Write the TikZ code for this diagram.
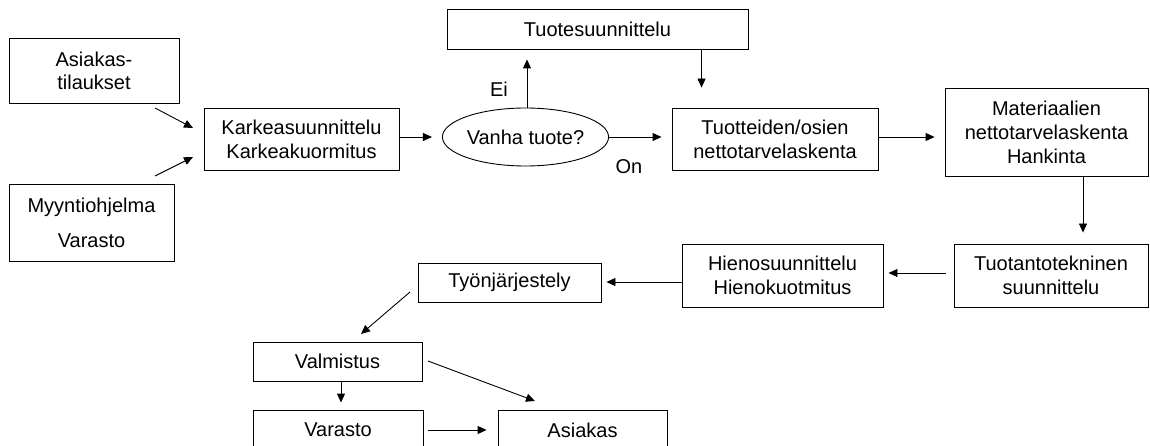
\documentclass[tikz,border=0pt]{standalone}
\usepackage{fontspec}
\setmainfont{Liberation Sans}
\usetikzlibrary{arrows.meta,shapes.geometric,calc}
\begin{document}
\begin{tikzpicture}[x=1pt,y=-1pt,
  box/.style={draw, line width=0.9pt, inner sep=0pt, align=center, font=\fontsize{20}{24}\selectfont},
  arr/.style={line width=0.9pt, -{Triangle[length=9pt,width=8pt]}},
  lbl/.style={font=\fontsize{20}{24}\selectfont, inner sep=0pt}]
\useasboundingbox (0,0) rectangle (1150,446);
\fill[white] (0,0) rectangle (1150,446);
% boxes
\node[box, minimum width=170pt, minimum height=65pt, font=\fontsize{20}{23}\selectfont] (asi) at (94,70.5) {Asiakas-\\tilaukset};
\node[box, minimum width=195pt, minimum height=62pt] (karkea) at (301.5,139) {Karkeasuunnittelu\\Karkeakuormitus};
\node[box, minimum width=165pt, minimum height=77pt] (myy) at (91.5,222.5) {Myyntiohjelma\\[11pt]Varasto};
\node[box, ellipse, minimum width=157pt, minimum height=58pt] (ell) at (525.5,137) {Vanha tuote?};
\node[box, minimum width=301pt, minimum height=40pt] (tsuun) at (597.5,29) {Tuotesuunnittelu};
\node[box, minimum width=206pt, minimum height=62pt] (tuotteiden) at (775,139) {Tuotteiden/osien\\nettotarvelaskenta};
\node[box, minimum width=203pt, minimum height=88pt] (mat) at (1046.5,132) {Materiaalien\\nettotarvelaskenta\\Hankinta};
\node[box, minimum width=194pt, minimum height=63pt] (tuotanto) at (1051,275.5) {Tuotantotekninen\\suunnittelu};
\node[box, minimum width=201pt, minimum height=63pt] (hieno) at (782.5,275.5) {Hienosuunnittelu\\Hienokuotmitus};
\node[box, minimum width=183pt, minimum height=39pt] (tyon) at (509.5,282.5) {Työnjärjestely};
\node[box, minimum width=169pt, minimum height=39pt] (valm) at (337.5,361.5) {Valmistus};
\node[box, minimum width=170pt, minimum height=40pt] (varasto) at (338,430) {Varasto};
\node[box, minimum width=169pt, minimum height=40pt] (asiakas) at (582.5,430) {Asiakas};
% labels
\node[lbl] (ei) at (499,89) {Ei};
\node[lbl] (on) at (629,167) {On};
% free arrow ends
\coordinate (a1) at (155,108); \coordinate (a2) at (193,128);
\coordinate (b1) at (155,176); \coordinate (b2) at (193,157);
\coordinate (t1) at (410,292); \coordinate (t2) at (361,334);
\coordinate (v1) at (428,361); \coordinate (v2) at (535,401);
% connectors
\draw[arr] (a1) -- (a2);
\draw[arr] (b1) -- (b2);
\draw[arr] (karkea.east |- ell.west) -- ($(ell.west)+(-10,0)$);
\draw[arr] (ell.east) -- ($(ell.east -| tuotteiden.west)+(-10,0)$);
\draw[arr] ($(ell.north)+(1.5,0)$) -- ($(tsuun.south -| ell.north)+(1.5,10)$);
\draw[arr] ($(tsuun.south west)+(255,0)$) -- ($(tuotteiden.north west)+(30,-20)$);
\draw[arr] ($(tuotteiden.east)+(0,-2)$) -- ($(mat.west |- tuotteiden.east)+(-10,-2)$);
\draw[arr] ($(mat.south)+(36.5,0)$) -- ($(tuotanto.north)+(32,-11)$);
\draw[arr] ($(tuotanto.west)+(-8,-2.5)$) -- ($(hieno.east)+(5,-2.5)$);
\draw[arr] ($(hieno.west)+(0,6.5)$) -- ($(tyon.east)+(5,-0.5)$);
\draw[arr] (t1) -- (t2);
\draw[arr] ($(valm.south)+(3.5,0)$) -- ($(varasto.north)+(3,-7)$);
\draw[arr] (v1) -- (v2);
\draw[arr] ($(varasto.east)+(5,0)$) -- ($(asiakas.west)+(-11,0)$);
\end{tikzpicture}
\end{document}
